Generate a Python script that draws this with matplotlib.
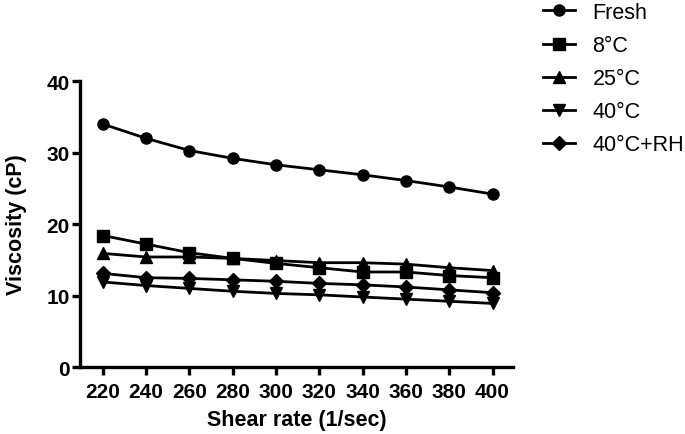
import numpy as np
import matplotlib.pyplot as plt

plt.rcParams['font.family'] = ['Liberation Sans', 'DejaVu Sans']

# --- dane ---
shear = [220, 240, 260, 280, 300, 320, 340, 360, 380, 400]
fresh = [34.0, 32.0, 30.3, 29.2, 28.3, 27.6, 26.9, 26.1, 25.2, 24.2]
c8 = [18.4, 17.2, 16.0, 15.2, 14.5, 13.9, 13.3, 13.3, 12.8, 12.5]
c25 = [15.9, 15.4, 15.4, 15.2, 14.9, 14.6, 14.6, 14.4, 13.9, 13.5]
c40 = [11.9, 11.4, 11.0, 10.6, 10.3, 10.1, 9.8, 9.5, 9.2, 8.9]
c40rh = [13.1, 12.5, 12.4, 12.2, 12.0, 11.7, 11.5, 11.2, 10.8, 10.4]
labels = ["Fresh", "8°C", "25°C", "40°C", "40°C+RH"]

fig = plt.figure(figsize=(6.85, 4.35), dpi=100)
ax = fig.add_axes([0.117, 0.154, 0.632, 0.657])

series = [fresh, c8, c25, c40, c40rh]
markers = ["o", "s", "^", "v", "D"]
sizes = [8, 8.5, 8.5, 8.5, 7.5]
for ys, m, ms, lab in zip(series, markers, sizes, labels):
    ax.plot(shear, ys, color="black", lw=2, marker=m, ms=ms, label=lab)

ax.set_xlim(209.5, 409.5)
ax.set_ylim(0, 40)
ax.set_xticks(shear)
ax.set_yticks([0, 10, 20, 30, 40])

for s in ["top", "right"]:
    ax.spines[s].set_visible(False)
for s in ["left", "bottom"]:
    ax.spines[s].set_linewidth(2.4)
ax.tick_params(direction="out", length=5.5, width=2.4, labelsize=15)
ax.tick_params(axis="x", pad=5)
ax.tick_params(axis="y", pad=2)
for t in ax.get_xticklabels() + ax.get_yticklabels():
    t.set_fontweight("bold")

ax.set_xlabel("Shear rate (1/sec)", fontsize=15.5, fontweight="bold", labelpad=6)
ax.set_ylabel("Viscosity (cP)", fontsize=15.5, fontweight="bold", labelpad=14)

fig.legend(loc="upper left", bbox_to_anchor=(543 / 685, 1 - 3 / 435),
           frameon=False, fontsize=15.5, handlelength=1.5, handletextpad=0.8,
           labelspacing=0.56, borderpad=0, borderaxespad=0)

fig.savefig("out.png", dpi=100)
